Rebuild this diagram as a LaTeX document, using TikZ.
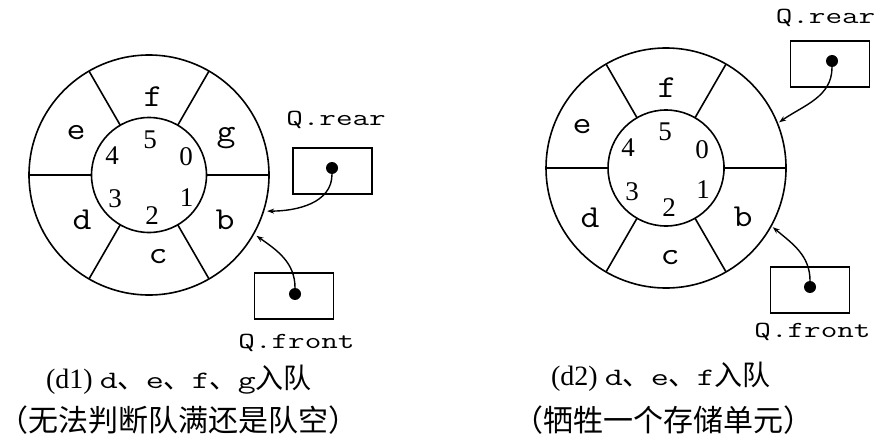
\documentclass[tikz,border=0pt]{standalone}
\usepackage{fontspec}
\setmainfont{Liberation Serif}
\newfontfamily\monofont[FakeStretch=1.4]{Latin Modern Mono}
\newfontfamily\cellfont[FakeStretch=1.15]{Latin Modern Mono}
\newfontfamily\cjk{Noto Sans CJK SC}
\usetikzlibrary{arrows.meta,calc}
\newcommand{\dunhao}{{\fontsize{28}{28}\cjk 、}}

\begin{document}
\begin{tikzpicture}[scale=0.35146]
\tikzstyle{every node}+=[inner sep=0pt]
\tikzstyle{ring}=[black, line width=1.6pt]
\tikzstyle{slot}=[font=\fontsize{32}{32}\cellfont]
\tikzstyle{ptrname}=[font=\fontsize{23}{23}\monofont]
\tikzstyle{idx}=[font=\fontsize{27}{27}\selectfont]
\tikzstyle{ptrbox}=[draw, line width=1.6pt, minimum width=79pt, minimum height=46pt]
\tikzstyle{ptrdot}=[circle, fill, minimum size=12pt]
\tikzstyle{ptr}=[line width=1.4pt, -{Stealth[length=7pt,width=5pt]}]
\tikzstyle{capline}=[font=\fontsize{28}{28}\selectfont]
\tikzstyle{caption}=[font=\fontsize{30}{30}\cjk]
\useasboundingbox (0,0) rectangle (89.2,-44.2);

% (d1)
\coordinate (L) at (14.9,-17.5);
\draw [ring] (L) circle (12);
\draw [ring] (L) circle (5.75);
\foreach \a in {0,60,...,300}
  \draw [ring] (L) ++(\a:5.75) -- ++(\a:6.25);
\foreach \t/\x/\y in {f/0.4/7.8,e/-7.3/4.2,g/7.7/3.7,d/-6.7/-4.5,c/0.9/-8.2,b/7.6/-4.5}
  \node [slot] (Lc\t) at ($(L)+(\x,\y)$) {\t};
\foreach \n/\x/\y in {0/3.7/1.8,1/3.75/-2.25,2/0.3/-4.1,3/-3.4/-2.35,4/-3.7/1.9,5/0.1/3.55}
  \node [idx] (Li\n) at ($(L)+(\x,\y)$) {\n};
\node [ptrbox] (Lrear) at (33.25,-17.1) {};
\node [ptrdot] (Lreardot) at (33.2,-16.8) {};
\node [ptrname] (Lreartxt) at (33.6,-12.0) {Q.rear};
\coordinate (Lreartip) at ($(L)+(-17:12.35)$);
\draw [ptr] (Lreardot) to [out=-90,in=0] (Lreartip);
\node [ptrbox] (Lfront) at (29.4,-29.6) {};
\node [ptrdot] (Lfrontdot) at (29.5,-29.4) {};
\node [ptrname] (Lfronttxt) at (29.65,-34.3) {Q.front};
\coordinate (Lfronttip) at ($(L)+(-29.5:12.35)$);
\draw [ptr] (Lfrontdot) to [out=90,in=-35] (Lfronttip);
\node [capline] (Lcap1) at (17.9,-38.0) {(d1) {\fontsize{25}{25}\monofont d\dunhao e\dunhao f\dunhao g}{\cjk 入队}};
\node [caption] (Lcap2) at (17.85,-42.0) {（无法判断队满还是队空）};

% (d2)
\coordinate (R) at (66.6,-16.8);
\draw [ring] (R) circle (12);
\draw [ring] (R) circle (5.8);
\foreach \a in {0,60,...,300}
  \draw [ring] (R) ++(\a:5.8) -- ++(\a:6.2);
\foreach \t/\x/\y in {f/0.1/8.0,e/-8.4/4.1,d/-7.6/-5.0,c/0.4/-9.0,b/7.7/-4.9}
  \node [slot] (Rc\t) at ($(R)+(\x,\y)$) {\t};
\foreach \n/\x/\y in {0/3.6/1.8,1/3.7/-2.2,2/0.3/-4.0,3/-3.4/-2.4,4/-3.8/2.0,5/-0.1/3.6}
  \node [idx] (Ri\n) at ($(R)+(\x,\y)$) {\n};
\node [ptrbox] (Rrear) at (83.0,-6.4) {};
\node [ptrdot] (Rreardot) at (83.2,-6.1) {};
\node [ptrname] (Rreartxt) at (82.55,-1.8) {Q.rear};
\coordinate (Rreartip) at ($(R)+(22:12.2)$);
\draw [ptr] (Rreardot) to [out=-90,in=35] (Rreartip);
\node [ptrbox] (Rfront) at (81.0,-29.0) {};
\node [ptrdot] (Rfrontdot) at (81.0,-28.7) {};
\node [ptrname] (Rfronttxt) at (81.25,-33.2) {Q.front};
\coordinate (Rfronttip) at ($(R)+(-29:12.2)$);
\draw [ptr] (Rfrontdot) to [out=90,in=-40] (Rfronttip);
\node [capline] (Rcap1) at (66.1,-37.7) {(d2) {\fontsize{25}{25}\monofont d\dunhao e\dunhao f}{\cjk 入队}};
\node [caption] (Rcap2) at (66.3,-42.0) {（牺牲一个存储单元）};
\end{tikzpicture}
\end{document}
